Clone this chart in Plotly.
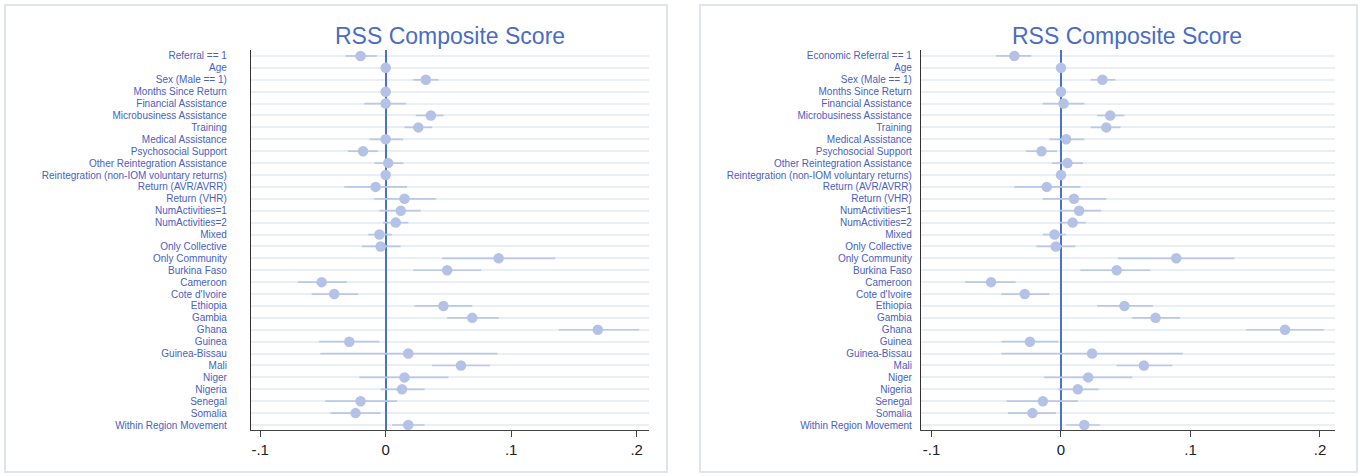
import plotly.graph_objects as go

W, H = 1362, 476

# Row labels (top to bottom)
labels_left = [
    "Referral == 1", "Age", "Sex (Male == 1)", "Months Since Return",
    "Financial Assistance", "Microbusiness Assistance", "Training",
    "Medical Assistance", "Psychosocial Support", "Other Reintegration Assistance",
    "Reintegration (non-IOM voluntary returns)", "Return (AVR/AVRR)", "Return (VHR)",
    "NumActivities=1", "NumActivities=2", "Mixed", "Only Collective", "Only Community",
    "Burkina Faso", "Cameroon", "Cote d'Ivoire", "Ethiopia", "Gambia", "Ghana",
    "Guinea", "Guinea-Bissau", "Mali", "Niger", "Nigeria", "Senegal", "Somalia",
    "Within Region Movement",
]
labels_right = ["Economic Referral == 1"] + labels_left[1:]

# Point estimates and 95% confidence bounds, model 1
coef_left = [-0.020, 0.000, 0.032, 0.000, 0.000, 0.036, 0.026, 0.000, -0.018, 0.002,
             0.000, -0.008, 0.015, 0.012, 0.008, -0.005, -0.004, 0.090, 0.049, -0.051,
             -0.041, 0.046, 0.069, 0.169, -0.029, 0.018, 0.060, 0.015, 0.013, -0.020,
             -0.024, 0.018]
lo_left = [-0.032, -0.001, 0.022, -0.001, -0.017, 0.024, 0.015, -0.013, -0.030, -0.009,
           -0.001, -0.033, -0.009, -0.005, -0.002, -0.014, -0.019, 0.045, 0.022, -0.070,
           -0.059, 0.023, 0.049, 0.138, -0.053, -0.052, 0.037, -0.021, -0.004, -0.048,
           -0.044, 0.005]
hi_left = [-0.007, 0.001, 0.042, 0.001, 0.016, 0.046, 0.037, 0.014, -0.006, 0.014,
           0.001, 0.017, 0.040, 0.028, 0.018, 0.005, 0.012, 0.135, 0.076, -0.031,
           -0.022, 0.069, 0.090, 0.202, -0.005, 0.089, 0.083, 0.050, 0.031, 0.009,
           -0.004, 0.031]

# Point estimates and 95% confidence bounds, model 2
coef_right = [-0.036, 0.000, 0.032, 0.000, 0.002, 0.038, 0.035, 0.004, -0.015, 0.005,
              0.000, -0.011, 0.010, 0.014, 0.009, -0.005, -0.004, 0.089, 0.043, -0.054,
              -0.028, 0.049, 0.073, 0.173, -0.024, 0.024, 0.064, 0.021, 0.013, -0.014,
              -0.022, 0.018]
lo_right = [-0.050, -0.001, 0.023, -0.001, -0.014, 0.028, 0.023, -0.009, -0.027, -0.007,
            -0.001, -0.036, -0.014, -0.001, -0.001, -0.014, -0.019, 0.044, 0.015, -0.074,
            -0.046, 0.028, 0.055, 0.143, -0.046, -0.046, 0.043, -0.013, -0.002, -0.042,
            -0.041, 0.004]
hi_right = [-0.023, 0.001, 0.042, 0.001, 0.018, 0.049, 0.046, 0.018, -0.003, 0.017,
            0.001, 0.015, 0.035, 0.031, 0.019, 0.004, 0.011, 0.134, 0.069, -0.035,
            -0.009, 0.071, 0.092, 0.203, -0.002, 0.094, 0.086, 0.055, 0.029, 0.013,
            -0.004, 0.030]

x_tickvals = [-0.1, 0.0, 0.1, 0.2]
x_ticktext = ["-.1", "0", ".1", ".2"]
title_text = "RSS Composite Score"

MARKER = "#b3c2e6"
CI = "#bac8e9"
LABEL = "#4a60c2"
TITLE = "#4a6cc4"
ZERO = "#4b70cf"
GRID = "#e9eff3"
FONT = "Arial, Liberation Sans, sans-serif"


def px_x(p):
    return p / W


def px_y(p):
    return (H - p) / H


fig = go.Figure()

panels = [
    dict(lab=labels_left, c=coef_left, lo=lo_left, hi=hi_left, xa="x", ya="y",
         dom=(251, 649), xr=(-0.1073, 0.2098), center=450, box=(5, 667), gap=21),
    dict(lab=labels_right, c=coef_right, lo=lo_right, hi=hi_right, xa="x2", ya="y2",
         dom=(921, 1335), xr=(-0.1081, 0.2116), center=1127, box=(700, 1357), gap=6),
]

rows = list(range(len(labels_left)))
annotations = []
shapes = []

for i, p in enumerate(panels):
    fig.add_trace(go.Scatter(
        x=p["c"], y=rows, mode="markers", xaxis=p["xa"], yaxis=p["ya"],
        marker=dict(size=10.5, color=MARKER),
        error_x=dict(type="data", symmetric=False,
                     array=[h - c for h, c in zip(p["hi"], p["c"])],
                     arrayminus=[c - l for c, l in zip(p["c"], p["lo"])],
                     color=CI, thickness=1.7, width=0),
        showlegend=False, hoverinfo="skip",
    ))
    suffix = "" if i == 0 else "2"
    fig.layout["xaxis" + suffix] = dict(
        domain=[px_x(p["dom"][0]), px_x(p["dom"][1])],
        anchor="y" + suffix, range=list(p["xr"]),
        tickvals=x_tickvals, ticktext=x_ticktext,
        ticks="outside", ticklen=6, tickwidth=1.2, tickcolor="#444",
        tickfont=dict(family=FONT, size=15, color="#222"),
        showgrid=False, showline=True, linecolor="#444", linewidth=1.2,
        zeroline=True, zerolinecolor=ZERO, zerolinewidth=1.6,
        fixedrange=True,
    )
    fig.layout["yaxis" + suffix] = dict(
        domain=[px_y(430), px_y(50)],
        anchor="x" + suffix, range=[31.42, -0.5],
        tickvals=rows, ticktext=p["lab"],
        ticks="outside", ticklen=p["gap"], tickcolor="rgba(0,0,0,0)",
        tickfont=dict(family=FONT, size=10, color=LABEL),
        showgrid=True, gridcolor=GRID, gridwidth=1.6,
        showline=True, linecolor="#333", linewidth=1.2,
        zeroline=False, fixedrange=True,
    )
    annotations.append(dict(
        text=title_text, x=px_x(p["center"]), y=px_y(36), xref="paper", yref="paper",
        xanchor="center", yanchor="middle", showarrow=False,
        font=dict(family=FONT, size=23, color=TITLE),
    ))
    shapes.append(dict(
        type="rect", xref="paper", yref="paper",
        x0=px_x(p["box"][0]), x1=px_x(p["box"][1]), y0=px_y(472), y1=px_y(5),
        line=dict(color="#dfe5e8", width=2), fillcolor="rgba(0,0,0,0)", layer="below",
    ))

fig.update_layout(
    width=W, height=H, margin=dict(l=0, r=0, t=0, b=0),
    paper_bgcolor="white", plot_bgcolor="white",
    annotations=annotations, shapes=shapes,
)

fig.write_html("out.html")
